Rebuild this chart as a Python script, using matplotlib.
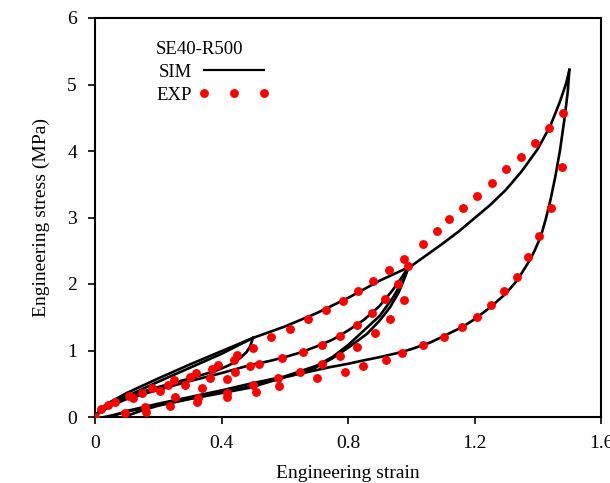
import matplotlib
matplotlib.use("Agg")
import matplotlib.pyplot as plt
from matplotlib.lines import Line2D

plt.rcParams['font.family'] = ['Liberation Serif', 'DejaVu Serif']

# ---- SIM curves (engineering strain, engineering stress MPa) ----
sim_primary_x = [0, 0.02, 0.05, 0.1, 0.2, 0.3, 0.4, 0.5, 0.6, 0.7, 0.8, 0.9, 0.95, 1.0,
                 1.05, 1.1, 1.15, 1.2, 1.25, 1.3, 1.35, 1.4, 1.44, 1.47, 1.49, 1.5]
sim_primary_y = [0, 0.13, 0.23, 0.36, 0.58, 0.79, 0.99, 1.19, 1.36, 1.56, 1.79, 2.05, 2.16, 2.27,
                 2.44, 2.61, 2.79, 2.99, 3.19, 3.42, 3.7, 4.03, 4.38, 4.74, 5.02, 5.22]

sim_reload05_x = [0, 0.02, 0.05, 0.1, 0.2, 0.3, 0.4, 0.5]
sim_reload05_y = [0, 0.11, 0.2, 0.31, 0.53, 0.74, 0.95, 1.19]

sim_unload05_x = [0.5, 0.49, 0.48, 0.46, 0.44, 0.42, 0.38, 0.35, 0.3, 0.2, 0.1, 0.05, 0.02, 0]
sim_unload05_y = [1.19, 1.06, 0.98, 0.89, 0.82, 0.77, 0.69, 0.65, 0.58, 0.45, 0.31, 0.22, 0.12, 0.02]

sim_reload10_x = [0, 0.05, 0.1, 0.2, 0.3, 0.4, 0.49, 0.55, 0.6, 0.65, 0.7, 0.75, 0.8, 0.85,
                  0.9, 0.94, 0.97, 0.993]
sim_reload10_y = [0.02, 0.17, 0.27, 0.41, 0.54, 0.66, 0.78, 0.84, 0.9, 0.97, 1.06, 1.16, 1.3,
                  1.46, 1.67, 1.9, 2.1, 2.27]

sim_unload10_x = [0.993, 0.98, 0.96, 0.933, 0.9, 0.86, 0.8, 0.75, 0.7, 0.65, 0.585, 0.49,
                  0.4, 0.3, 0.2, 0.1, 0.05, 0.03]
sim_unload10_y = [2.27, 2.1, 1.87, 1.65, 1.45, 1.25, 1.04, 0.88, 0.75, 0.66, 0.58, 0.46,
                  0.37, 0.28, 0.18, 0.08, 0.02, 0]

sim_reload15_x = [0.05, 0.1, 0.2, 0.3, 0.4, 0.49, 0.6, 0.7, 0.75, 0.8, 0.85, 0.9, 0.94,
                  0.97, 0.993]
sim_reload15_y = [0, 0.09, 0.2, 0.3, 0.4, 0.5, 0.61, 0.77, 0.9, 1.08, 1.3, 1.52, 1.78,
                  2.02, 2.27]

sim_unload15_x = [1.5, 1.495, 1.485, 1.47, 1.455, 1.44, 1.425, 1.41, 1.39, 1.375, 1.35,
                  1.334, 1.3, 1.25, 1.2, 1.164, 1.1, 1.06, 1.0, 0.955, 0.9, 0.848, 0.8,
                  0.743, 0.6, 0.49, 0.4, 0.3, 0.2, 0.15, 0.12, 0.09]
sim_unload15_y = [5.22, 4.9, 4.5, 4.0, 3.6, 3.26, 2.97, 2.72, 2.5, 2.36, 2.17,
                  2.05, 1.86, 1.65, 1.47, 1.36, 1.21, 1.12, 1.02, 0.96, 0.9, 0.85, 0.8,
                  0.75, 0.6, 0.44, 0.36, 0.27, 0.17, 0.1, 0.05, 0]

# ---- EXP points ----
exp_x = [0, 0.02, 0.04, 0.063, 0.107, 0.12, 0.15, 0.18, 0.205, 0.23, 0.25, 0.3, 0.32,
         0.37, 0.39, 0.44, 0.45, 0.501,
         0.285, 0.338, 0.364, 0.417, 0.443, 0.49, 0.52,
         0.253, 0.237, 0.326, 0.322, 0.417, 0.417, 0.158, 0.161, 0.095,
         0.50, 0.51,
         0.556, 0.617, 0.675, 0.730, 0.785, 0.833, 0.880, 0.931, 0.978, 1.038, 1.080,
         1.120, 1.165, 1.209, 1.254, 1.300, 1.346, 1.390, 1.436, 1.481,
         0.590, 0.659, 0.717, 0.775, 0.827, 0.875, 0.917, 0.959, 0.991,
         0.578, 0.648, 0.717, 0.775, 0.829, 0.885, 0.933, 0.977,
         0.583, 0.701, 0.790, 0.846, 0.921, 0.972, 1.038, 1.103, 1.160, 1.208, 1.252,
         1.293, 1.333, 1.370, 1.405, 1.441, 1.476]
exp_y = [0, 0.12, 0.18, 0.23, 0.32, 0.29, 0.36, 0.44, 0.39, 0.48, 0.56, 0.60, 0.66,
         0.72, 0.78, 0.86, 0.93, 1.04,
         0.48, 0.44, 0.59, 0.57, 0.68, 0.77, 0.80,
         0.30, 0.17, 0.29, 0.23, 0.36, 0.30, 0.15, 0.08, 0.06,
         0.48, 0.37,
         1.21, 1.33, 1.47, 1.61, 1.75, 1.90, 2.05, 2.21, 2.37, 2.60, 2.80,
         2.97, 3.15, 3.33, 3.52, 3.73, 3.91, 4.12, 4.35, 4.57,
         0.88, 0.98, 1.09, 1.22, 1.38, 1.57, 1.77, 2.00, 2.27,
         0.58, 0.67, 0.80, 0.92, 1.06, 1.26, 1.47, 1.76,
         0.47, 0.58, 0.68, 0.77, 0.85, 0.96, 1.08, 1.21, 1.35, 1.51, 1.68,
         1.90, 2.11, 2.40, 2.72, 3.15, 3.76]

x_ticks = [0, 0.4, 0.8, 1.2, 1.6]
x_ticklabels = ['0', '0.4', '0.8', '1.2', '1.6']
y_ticks = [0, 1, 2, 3, 4, 5, 6]

fig = plt.figure(figsize=(6.10, 4.83), dpi=100)
ax = fig.add_axes([95 / 610, 1 - 417 / 483, 506 / 610, 399 / 483])

sim_curves = [
    (sim_primary_x, sim_primary_y),
    (sim_reload05_x, sim_reload05_y),
    (sim_unload05_x, sim_unload05_y),
    (sim_reload10_x, sim_reload10_y),
    (sim_unload10_x, sim_unload10_y),
    (sim_reload15_x, sim_reload15_y),
    (sim_unload15_x, sim_unload15_y),
]
for cx, cy in sim_curves:
    ax.plot(cx, cy, color='black', lw=1.9, solid_joinstyle='round', zorder=2)

ax.plot(exp_x, exp_y, linestyle='none', marker='o', ms=6.4, color='#ff0000',
        markeredgewidth=0, zorder=3)

ax.set_xlim(0, 1.6)
ax.set_ylim(0, 6)
ax.set_xticks(x_ticks)
ax.set_xticklabels(x_ticklabels)
ax.set_yticks(y_ticks)
ax.tick_params(direction='out', length=5, width=1.2, labelsize=14, pad=8)
for s in ax.spines.values():
    s.set_linewidth(1.5)

ax.set_xlabel('Engineering strain', fontsize=14, labelpad=9)
ax.set_ylabel('Engineering stress (MPa)', fontsize=14, labelpad=12)

handles = [Line2D([], [], color='black', lw=1.6),
           Line2D([], [], linestyle='none', marker='o', ms=6.4, color='#ff0000',
                  markeredgewidth=0)]
leg = ax.legend(handles, ['SIM', 'EXP'], title='SE40-R500', loc='upper left',
                bbox_to_anchor=(0.095, 0.975), frameon=False, markerfirst=False,
                numpoints=3, handlelength=3.8, handletextpad=0.35, labelspacing=0.3,
                fontsize=13.5, title_fontsize=13.5, alignment='left', borderpad=0.2)

fig.savefig('out.png', dpi=100)
